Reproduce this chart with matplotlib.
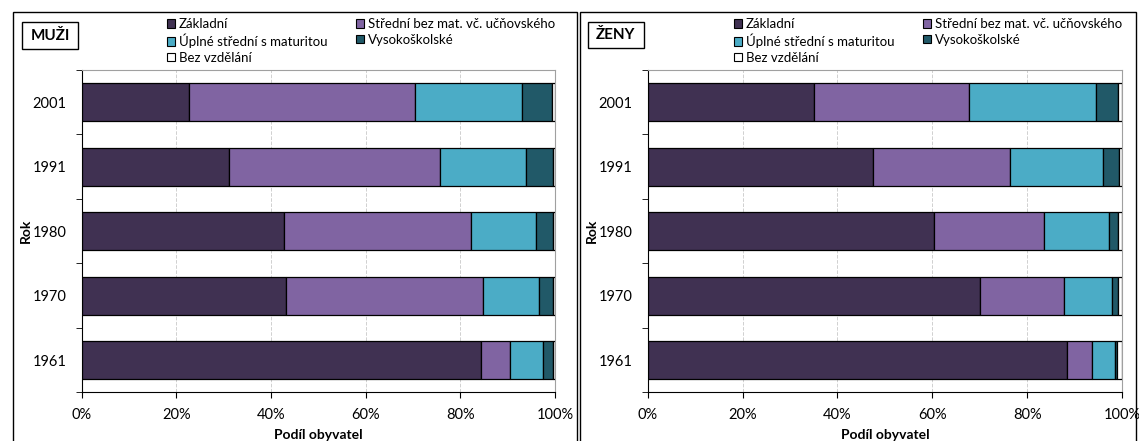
import numpy as np
import matplotlib
matplotlib.use('Agg')
import matplotlib.pyplot as plt
from matplotlib.patches import Rectangle, Patch
from matplotlib.ticker import FixedLocator, PercentFormatter

plt.rcParams['font.family'] = ['Lato', 'DejaVu Sans']

years = ['1961', '1970', '1980', '1991', '2001']
categories = ['Základní', 'Střední bez mat. vč. učňovského', 'Úplné střední s maturitou',
              'Vysokoškolské', 'Bez vzdělání']
colors = ['#403152', '#8064a2', '#4bacc6', '#215968', '#ffffff']

# shares in %, order 1961 .. 2001
muzi_zakladni = [84.4, 43.2, 42.7, 31.2, 22.7]
muzi_stredni = [6.0, 41.6, 39.6, 44.6, 47.7]
muzi_uplne = [7.1, 11.9, 13.7, 18.0, 22.7]
muzi_vs = [2.0, 2.8, 3.6, 5.8, 6.3]
muzi_bez = [0.5, 0.5, 0.4, 0.4, 0.6]

zeny_zakladni = [88.5, 70.0, 60.4, 47.4, 35.0]
zeny_stredni = [5.1, 17.7, 23.2, 28.9, 32.8]
zeny_uplne = [5.0, 10.2, 13.6, 19.6, 26.8]
zeny_vs = [0.4, 1.2, 2.0, 3.5, 4.6]
zeny_bez = [1.0, 0.9, 0.8, 0.6, 0.8]

W, H = 1139, 441
fig = plt.figure(figsize=(W / 100, H / 100), dpi=100)


def fx(px):
    return px / W


def fy(py):
    return 1 - py / H


def panel(x_left, x_right, title, box):
    # chart-area border
    fig.patches.append(Rectangle((fx(x_left), fy(445)), fx(x_right - x_left), fy(12) - fy(445),
                                 transform=fig.transFigure, fill=False, ec='black', lw=1.0))
    # title box
    bx0, by0, bx1, by1 = box
    fig.patches.append(Rectangle((fx(bx0), fy(by1)), fx(bx1 - bx0), fy(by0) - fy(by1),
                                 transform=fig.transFigure, fill=False, ec='black', lw=1.0))
    fig.text(fx((bx0 + bx1) / 2), fy((by0 + by1) / 2), title, ha='center', va='center',
             fontsize=11, fontweight='bold')


def draw(ax, data):
    y = np.arange(len(years))
    left = np.zeros(len(years))
    for vals, col in zip(data, colors):
        ax.barh(y, vals, left=left, height=0.59, color=col, edgecolor='black', linewidth=0.9, zorder=3)
        left += np.array(vals)
    ax.set_xlim(0, 100)
    ax.set_ylim(-0.5, len(years) - 0.5)
    ax.set_yticks(y)
    ax.set_yticklabels(years, fontsize=10.5)
    ax.yaxis.set_minor_locator(FixedLocator(np.arange(-0.5, len(years), 1.0)))
    ax.tick_params(axis='y', which='major', length=0, pad=11)
    ax.tick_params(axis='y', which='minor', length=4, direction='out', color='black')
    ax.set_xticks(np.arange(0, 101, 20))
    ax.xaxis.set_major_formatter(PercentFormatter(decimals=0))
    ax.tick_params(axis='x', length=4, direction='out', labelsize=10.5, pad=7)
    ax.grid(axis='x', color='#d0d0d0', linestyle='--', linewidth=0.7, zorder=0)
    ax.spines['top'].set_color('#a0a0a0')
    ax.spines['right'].set_color('#a0a0a0')
    ax.set_xlabel('Podíl obyvatel', fontsize=10, fontweight='bold', labelpad=5)
    ax.set_ylabel('Rok', fontsize=10, fontweight='bold')
    ax.yaxis.set_label_coords(-0.105, 0.5)


ax1 = fig.add_axes([fx(81.7), fy(392.3), fx(555 - 81.7), fy(70) - fy(392.3)])
ax2 = fig.add_axes([fx(647.7), fy(392.3), fx(1122 - 647.7), fy(70) - fy(392.3)])

panel(12.7, 577, 'MUŽI', (22, 22, 78, 49))
panel(579.5, 1136, 'ŽENY', (587.7, 22, 644, 48))

draw(ax1, [muzi_zakladni, muzi_stredni, muzi_uplne, muzi_vs, muzi_bez])
draw(ax2, [zeny_zakladni, zeny_stredni, zeny_uplne, zeny_vs, zeny_bez])

order = [0, 2, 4, 1, 3]
handles = [Patch(facecolor=colors[i], edgecolor='black', linewidth=0.8) for i in order]
labels = [categories[i] for i in order]
for lx in (167, 734):
    fig.legend(handles, labels, loc='upper left', bbox_to_anchor=(fx(lx), fy(18)),
               ncol=2, frameon=False, fontsize=9.5, handlelength=0.6, handleheight=0.6,
               handletextpad=0.3, columnspacing=2.2, labelspacing=0.28, borderpad=0,
               borderaxespad=0)

fig.savefig('out.png', dpi=100)
